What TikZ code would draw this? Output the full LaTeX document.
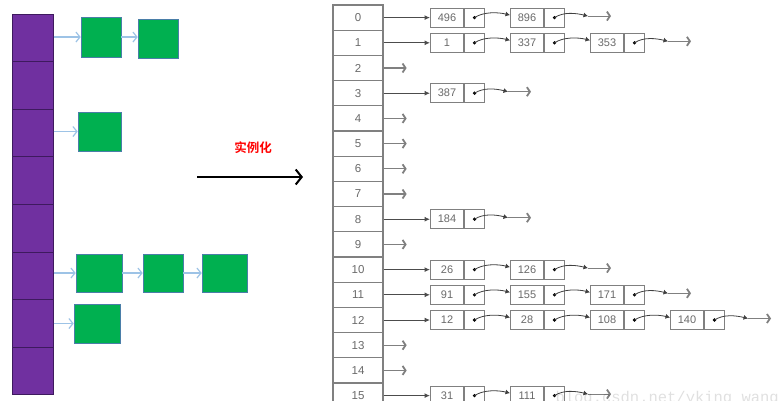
\documentclass[tikz,border=0pt]{standalone}
\usepackage{fontspec}
\setmainfont{Liberation Sans}
\newfontfamily\cjkfont{Noto Sans CJK SC}[BoldFont={* Bold}]
\newfontfamily\wmfont{Liberation Mono}
\usetikzlibrary{arrows.meta,calc}
\definecolor{purp}{HTML}{7030A0}
\definecolor{purpline}{HTML}{3E1A5E}
\definecolor{grn}{HTML}{00B050}
\definecolor{grnline}{HTML}{4A7EA8}
\definecolor{lblue}{HTML}{9DC3E6}
\definecolor{tgray}{HTML}{6A6A6A}
\definecolor{lgray}{HTML}{808080}
\tikzset{
  x=1pt, y=-1pt,
  slot/.style={draw=purpline, line width=1pt, fill=purp, minimum width=41pt, minimum height=47.6pt, inner sep=0pt},
  gbox/.style={draw=grnline, line width=0.6pt, fill=grn, inner sep=0pt},
  barrow/.style={draw=lblue, line width=1.2pt, -{Straight Barb[length=4pt,width=10pt,line width=1.2pt]}},
  tabcell/.style={draw=lgray, line width=1.3pt, minimum width=50pt, minimum height=25.2pt, inner sep=0pt, text=tgray, font=\fontsize{11.5}{12}\selectfont},
  valbox/.style={draw=lgray, line width=1pt, minimum width=33pt, minimum height=19pt, inner sep=0pt, text=tgray, font=\fontsize{11}{11}\selectfont},
  ptrbox/.style={draw=lgray, line width=1pt, minimum width=20pt, minimum height=19pt, inner sep=0pt},
  tabarrow/.style={draw=black!70, line width=1pt, -{Latex[length=5.5pt,width=5pt]}},
  link/.style={draw=black!75, line width=0.8pt, -{Latex[length=4.5pt,width=5pt]}},
  nullend/.style={draw=lgray, line width=1.1pt, -{Straight Barb[length=3pt,width=9pt,line width=1.8pt]}},
}
\begin{document}
\begin{tikzpicture}
\useasboundingbox (0,0) rectangle (778,400);
\fill[white] (0,0) rectangle (778,400);
% ---------- left: buckets ----------
\foreach \k in {0,...,7}{
  \node[slot] (c\k) at (32.5,{14+47.6*\k+23.8}) {};
}
\node[gbox, minimum width=40pt, minimum height=40pt] (g1) at (101,37) {};
\node[gbox, minimum width=40pt, minimum height=39pt] (g2) at (158,38.5) {};
\node[gbox, minimum width=43pt, minimum height=39pt] (g3) at (99.5,131.5) {};
\node[gbox, minimum width=46pt, minimum height=38pt] (g4) at (99,273) {};
\node[gbox, minimum width=40pt, minimum height=38pt] (g5) at (163,273) {};
\node[gbox, minimum width=45pt, minimum height=38pt] (g6) at (224.5,273) {};
\node[gbox, minimum width=46pt, minimum height=39pt] (g7) at (97,323.5) {};
\draw[barrow] (c0.east |- g1.west) -- (g1.west);
\draw[barrow] (g1.east) -- (g2.west |- g1.east);
\draw[barrow] (c2.east |- g3.west) -- (g3.west);
\draw[barrow] (c5.east |- g4.west) -- (g4.west);
\draw[barrow] (g4.east) -- (g5.west);
\draw[barrow] (g5.east) -- (g6.west);
\draw[barrow] (c6.east |- g7.west) -- (g7.west);
% ---------- middle arrow ----------
\coordinate (a1) at (197,177);
\coordinate (a2) at (303,177);
\draw[line width=2pt, -{Straight Barb[length=6pt,width=15pt,line width=2pt]}] (a1) -- (a2);
\node[text=red, font=\cjkfont\bfseries\fontsize{12.5}{13}\selectfont] (lbl) at (253,148) {实例化};
% ---------- right: table ----------
\foreach \r in {0,...,15}{
  \node[tabcell] (t\r) at (358,{17.6+25.2*\r}) {\r};
}
\foreach \r in {2,4,5,6,7,9,13,14}{
  \coordinate (z\r) at ($(t\r.east)+(23,0)$);
  \draw[nullend] (t\r.east) -- (z\r);
}
\foreach \r/\n/\vals in {0/2/{496,896}, 1/3/{1,337,353}, 3/1/{387}, 8/1/{184}, 10/2/{26,126}, 11/3/{91,155,171}, 12/4/{12,28,108,140}, 15/2/{31,111}}{
  \foreach \v [count=\i] in \vals {
    \node[valbox, anchor=west] (v\r-\i) at ({430+80*(\i-1)},{17.6+25.2*\r}) {\v};
    \node[ptrbox, anchor=west] (p\r-\i) at (v\r-\i.east) {};
    \fill (p\r-\i.center) circle (1.8);
  }
  \draw[tabarrow] (t\r.east) -- (v\r-1.west);
  \foreach \i [evaluate=\i as \j using int(\i+1)] in {1,...,\n}{
    \ifnum\i<\n
      \draw[link] (p\r-\i.center) .. controls +(9,-6) and +(-12,-3) .. ($(v\r-\j.west)+(0,-2.5)$);
    \else
      \coordinate (m\r) at ($(p\r-\i.east)+(23,-1.5)$);
      \coordinate (e\r) at ($(m\r)+(23,0)$);
      \draw[link] (p\r-\i.center) .. controls +(9,-6) and +(-12,-3) .. (m\r);
      \draw[nullend] (m\r) -- (e\r);
    \fi
  }
}
% ---------- watermark ----------
\node[anchor=base east, text=black, opacity=0.12, inner sep=0pt, font=\wmfont\fontsize{15.5}{16}\selectfont] (wm) at (779,402) {blog.csdn.net/yking\_wang};
\end{tikzpicture}
\end{document}
